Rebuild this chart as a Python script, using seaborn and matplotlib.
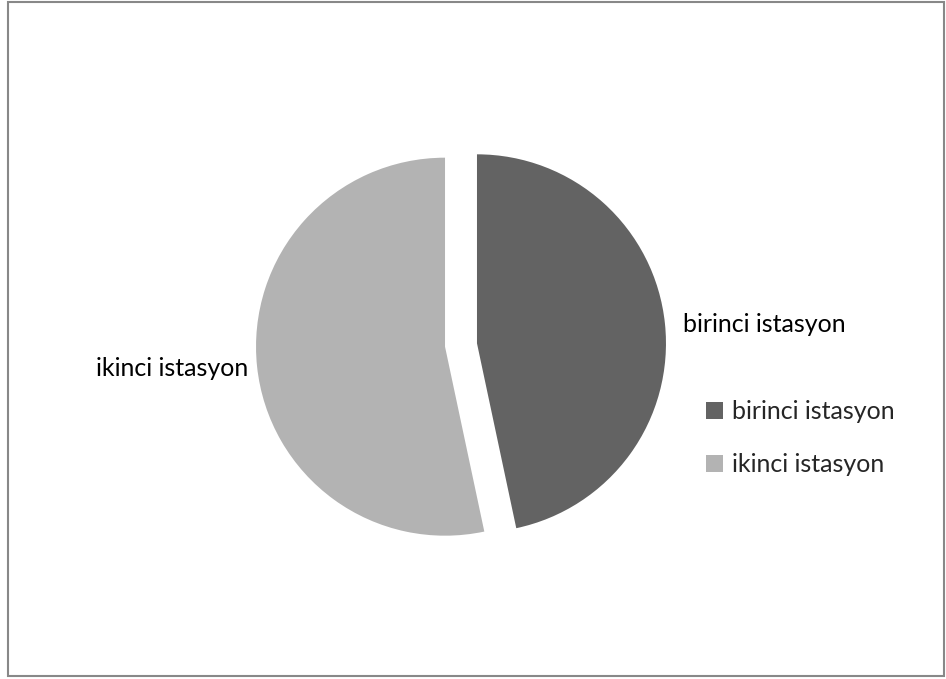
import matplotlib
matplotlib.use("Agg")
import matplotlib.pyplot as plt
from matplotlib.patches import Rectangle
import seaborn as sns

# Share of measurements per station
stations = ["birinci istasyon", "ikinci istasyon"]
values = [7, 8]
colors = ["#636363", "#b3b3b3"]

sns.set_theme(style="white")
plt.rcParams["font.family"] = ["Lato", "DejaVu Sans"]

W, H = 946, 679
FS = 18
fig = plt.figure(figsize=(W / 100, H / 100), dpi=100)
fig.patch.set_facecolor("white")

# Axes spanning the whole figure; pie of unit radius, 1 unit = R pixels
R = 189.0
cx, cy = 461.0, 345.0
ax = fig.add_axes([0, 0, 1, 1])
wedges, texts = ax.pie(
    values,
    labels=stations,
    colors=colors,
    startangle=90,
    counterclock=False,
    explode=[0.085, 0.085],
    labeldistance=1.1,
    radius=1.0,
    wedgeprops=dict(linewidth=0),
    textprops=dict(fontsize=FS, color="#000000"),
)
# Place the slice labels just outside each slice
texts[0].set_position(((683 - cx) / R, (cy - 324) / R))
texts[1].set_position(((248 - cx) / R, (cy - 369) / R))

ax.set_aspect("auto")
ax.set_xlim(-cx / R, (W - cx) / R)
ax.set_ylim((cy - H) / R, cy / R)
ax.axis("off")

leg = fig.legend(
    wedges,
    stations,
    loc="center left",
    bbox_to_anchor=(706 / W, 1 - 438 / H),
    frameon=False,
    fontsize=FS,
    handlelength=0.66,
    handleheight=0.66,
    handletextpad=0.36,
    labelspacing=1.2,
    borderpad=0,
    borderaxespad=0,
)

# Outer chart frame
fig.patches.append(Rectangle((8 / W, 3 / H), (944 - 8) / W, (677 - 3) / H,
                             transform=fig.transFigure, fill=False,
                             edgecolor="#888888", linewidth=1.5))

fig.savefig("out.png", dpi=100, facecolor="white")
